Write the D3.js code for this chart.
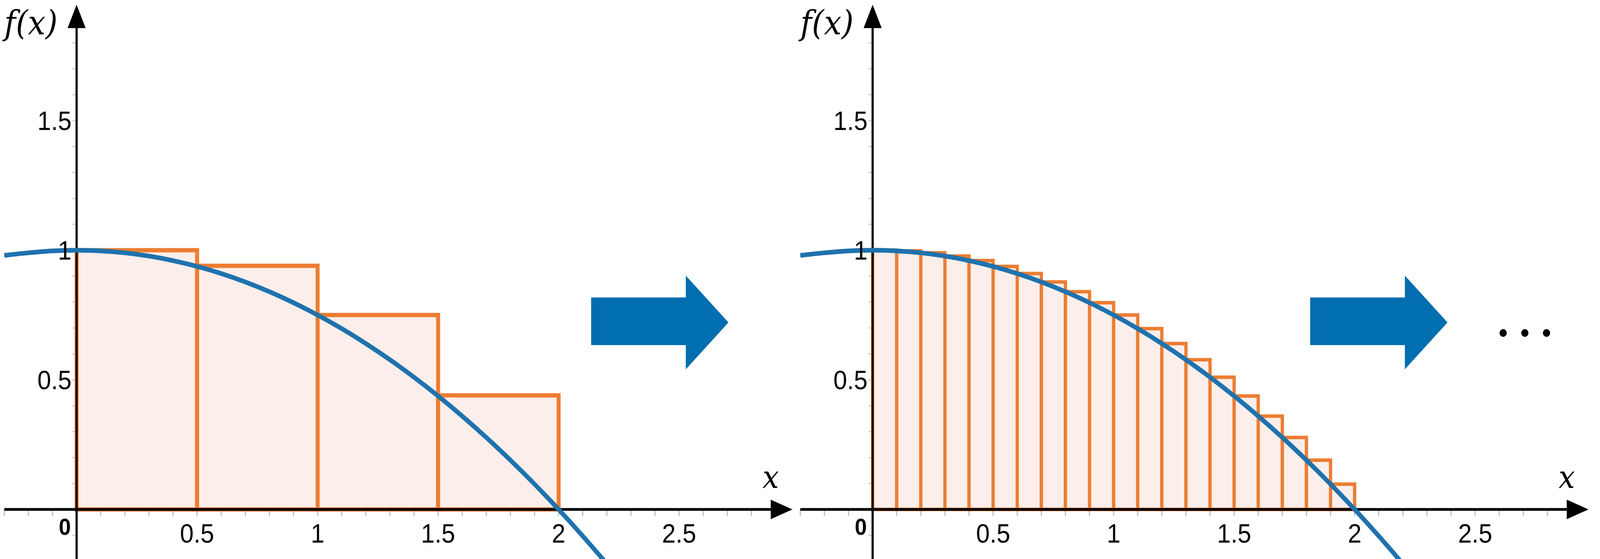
<!DOCTYPE html>
<html><head><meta charset="utf-8">
<script src="https://cdn.jsdelivr.net/npm/d3@7"></script>
<style>html,body{margin:0;padding:0;background:#fff;overflow:hidden}svg{display:block;width:100vw;height:100vh}</style>
</head><body>
<svg id="c" viewBox="0 0 4428 1432" preserveAspectRatio="none"></svg>
<script>
// curve samples
const curveX = [-0.3,-0.2,-0.1,0,0.1,0.2,0.3,0.4,0.5,0.6,0.7,0.8,0.9,1,1.1,1.2,1.3,1.4,1.5,1.6,1.7,1.8,1.9,2,2.1,2.2];
const curveY = [0.98,0.99,0.9975,1,0.9975,0.99,0.9775,0.96,0.9375,0.91,0.8775,0.84,0.7975,0.75,0.6975,0.64,0.5775,0.51,0.4375,0.36,0.2775,0.19,0.0975,0,-0.1025,-0.21];
// coarse rectangles (width 0.5)
const coarseX = [0, 0.5, 1, 1.5];
const coarseH = [1, 0.94, 0.75, 0.44];
// fine rectangles (width 0.1)
const fineX = [0,0.1,0.2,0.3,0.4,0.5,0.6,0.7,0.8,0.9,1,1.1,1.2,1.3,1.4,1.5,1.6,1.7,1.8,1.9];
const fineH = [1,0.9975,0.99,0.9775,0.96,0.9375,0.91,0.8775,0.84,0.7975,0.75,0.6975,0.64,0.5775,0.51,0.4375,0.36,0.2775,0.19,0.0975];
const xTicks = [0.5, 1, 1.5, 2, 2.5];
const yTicks = [0.5, 1, 1.5];

const svg = d3.select("#c");
const ORANGE = "#ED7D31", FILL = "#FCEEEA", BLUE = "#1F72AE", ARROW = "#006EAF";
const tickFont = "'Liberation Sans Narrow','Liberation Sans',Arial,sans-serif";

function panel(ox, rectX, rectH, w) {
  const x = d3.scaleLinear().domain([0, 1]).range([ox, ox + 667]);
  const y = d3.scaleLinear().domain([0, 1]).range([1305, 641]);
  const g = svg.append("g");
  const x0 = x(-0.3), xEnd = x(2.97);

  // minor ticks
  g.selectAll(".mx").data(d3.range(-3, 29)).enter().append("line")
    .attr("x1", d => x(d / 10)).attr("x2", d => x(d / 10))
    .attr("y1", 1305).attr("y2", 1322).attr("stroke", "#bbb").attr("stroke-width", 3);
  g.selectAll(".my").data(d3.range(-1, 19)).enter().append("line")
    .attr("y1", d => y(d / 10)).attr("y2", d => y(d / 10))
    .attr("x1", x(0) - 12).attr("x2", x(0)).attr("stroke", "#ccc").attr("stroke-width", 3);

  // rectangles
  g.selectAll(".r").data(rectX).enter().append("rect")
    .attr("x", d => x(d)).attr("width", x(w) - x(0))
    .attr("y", (d, i) => y(rectH[i])).attr("height", (d, i) => y(0) - y(rectH[i]))
    .attr("fill", FILL).attr("stroke", ORANGE).attr("stroke-width", w < 0.2 ? 9 : 11);

  // axes
  g.append("line").attr("x1", x0).attr("x2", xEnd - 40).attr("y1", 1305).attr("y2", 1305)
    .attr("stroke", "#000").attr("stroke-width", 7);
  g.append("path").attr("d", `M${xEnd},1305 L${xEnd - 60},1280 L${xEnd - 60},1330 Z`).attr("fill", "#000");
  g.append("line").attr("x1", x(0)).attr("x2", x(0)).attr("y1", 1432).attr("y2", 60)
    .attr("stroke", "#000").attr("stroke-width", 6);
  g.append("path").attr("d", `M${x(0)},12 L${x(0) - 25},72 L${x(0) + 25},72 Z`).attr("fill", "#000");

  // curve
  const line = d3.line().x(d => x(d[0])).y(d => y(d[1])).curve(d3.curveCatmullRom);
  g.append("path").datum(curveX.map((v, i) => [v, curveY[i]]))
    .attr("d", line).attr("fill", "none").attr("stroke", BLUE).attr("stroke-width", 12);

  // tick labels
  g.selectAll(".xl").data(xTicks).enter().append("text")
    .attr("x", d => x(d)).attr("y", 1390).attr("text-anchor", "middle")
    .attr("font-family", tickFont).attr("font-size", 68).text(d => d);
  g.selectAll(".yl").data(yTicks).enter().append("text")
    .attr("x", x(0) - 14).attr("y", d => y(d) + 24).attr("text-anchor", "end")
    .attr("font-family", tickFont).attr("font-size", 68).text(d => d);
  g.append("text").attr("x", x(0) - 16).attr("y", 1370).attr("text-anchor", "end")
    .attr("font-family", tickFont).attr("font-size", 60).attr("font-weight", "bold").text("0");

  // axis labels
  g.append("text").attr("x", x(0) - 200).attr("y", 88)
    .attr("font-family", "'DejaVu Serif',serif").attr("font-style", "italic").attr("font-size", 86)
    .text("f(x)");
  g.append("text").attr("x", x(2.88)).attr("y", 1250).attr("text-anchor", "middle")
    .attr("font-family", "'DejaVu Serif',serif").attr("font-style", "italic").attr("font-size", 80)
    .text("x");
  return x;
}

panel(212, coarseX, coarseH, 0.5);
panel(2415, fineX, fineH, 0.1);

function bigArrow(x0) {
  svg.append("path")
    .attr("d", `M${x0},762 L${x0 + 262},762 L${x0 + 262},706 L${x0 + 380},826 L${x0 + 262},946 L${x0 + 262},884 L${x0},884 Z`)
    .attr("fill", ARROW);
}
bigArrow(1636);
bigArrow(3626);

svg.selectAll(".dot").data([0, 1, 2]).enter().append("circle")
  .attr("cx", d => 4160 + d * 60).attr("cy", 853).attr("r", 10).attr("fill", "#000");
</script>
</body></html>
